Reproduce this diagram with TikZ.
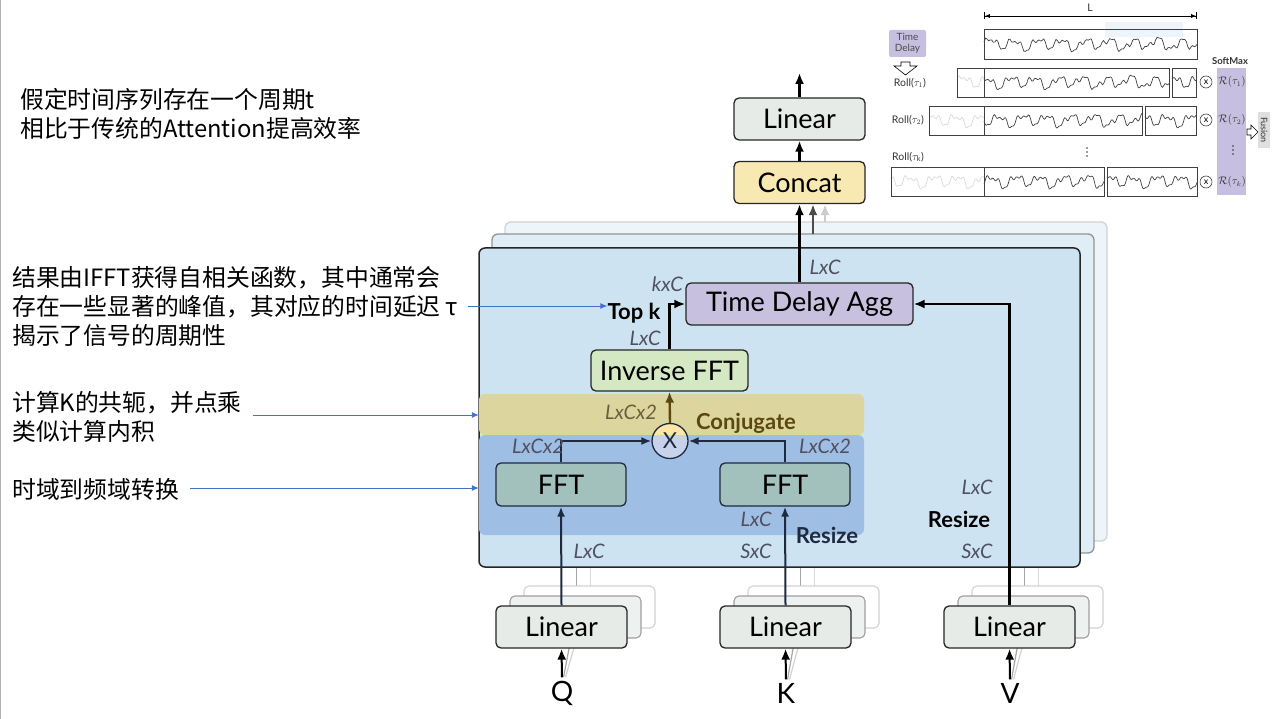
\documentclass[tikz,border=0pt]{standalone}
\usepackage{fontspec}
\setmainfont{Lato}
\newfontfamily\cjk{Noto Sans CJK SC}
\usetikzlibrary{arrows.meta,shapes.geometric,calc}
\definecolor{panelA}{HTML}{CDE3F1}
\definecolor{panelB}{HTML}{DFEDF6}
\definecolor{panelC}{HTML}{EEF5FA}
\definecolor{linfill}{HTML}{E6EBE8}
\definecolor{catfill}{HTML}{F8E8B2}
\definecolor{tdafill}{HTML}{C7C0DE}
\definecolor{ifftfill}{HTML}{D3E8C3}
\definecolor{conjfill}{HTML}{DDD59E}
\definecolor{fftband}{HTML}{9FBEE3}
\definecolor{fftfill}{HTML}{A2C0BC}
\definecolor{navy}{HTML}{1D2A40}
\definecolor{lblgray}{HTML}{4F5060}
\definecolor{brown}{HTML}{5B4710}
\definecolor{annblue}{HTML}{4472C4}
\definecolor{softm}{HTML}{C6BFE0}
\definecolor{mulbot}{HTML}{C8D2EA}
\definecolor{multop}{HTML}{FBE6A4}
% #1 x0, #2 x1, #3 ymid, #4 shift (small), #5 colour
\newcommand\wv[5]{\draw[#5, line width=0.7pt, line join=round] plot[domain=0:{#2-#1}, samples=140] ({#1+\x}, {#3 - (4.5*sin(15*(\x+#4)) + 2.5*sin(31*(\x+#4)+40) + 1.6*sin(61*(\x+#4)+10) + 1.2*sin(7*(\x+#4)))});}
\begin{document}
\begin{tikzpicture}[x=1pt,y=-1pt,
  bx/.style={draw=black!85, line width=1.3pt, rounded corners=5pt, inner sep=0pt, minimum height=42pt, font=\fontsize{27}{30}\selectfont},
  arr/.style={-{Latex[length=11pt,width=9pt]}, line width=2.4pt},
  narr/.style={-{Latex[length=10pt,width=8pt]}, line width=2pt, navy},
  lbl/.style={font=\fontsize{20}{22}\selectfont\itshape, text=lblgray, inner sep=0pt},
  ann/.style={font=\fontsize{23.8}{29}\selectfont\cjk, align=left, anchor=west, inner sep=0pt},
  aarr/.style={-{Latex[length=7pt,width=6pt]}, line width=1pt, annblue},
  ghostA/.style={draw=gray!75, fill=linfill!70, line width=1.1pt, rounded corners=5pt},
  ghostB/.style={draw=gray!35, fill=white, line width=1.1pt, rounded corners=5pt},
  tiny/.style={font=\fontsize{10.5}{11}\selectfont, inner sep=0pt, text=black!80},
  wbox/.style={draw=black!75, line width=0.7pt},
  strong/.style={font=\fontsize{22}{24}\selectfont\bfseries, inner sep=0pt}
]
\useasboundingbox (0,0) rectangle (1279,719);
\draw[gray!60, line width=1pt] (0.5,0) -- (0.5,719);

% ---------- left annotations ----------
\node[ann] (ann1) at (20,114) {假定时间序列存在一个周期t\\相比于传统的Attention提高效率};
\node[ann] (ann2) at (12,307) {结果由IFFT获得自相关函数，其中通常会\\存在一些显著的峰值，其对应的时间延迟 τ\\揭示了信号的周期性};
\node[ann] (ann3) at (12,417) {计算K的共轭，并点乘\\类似计算内积};
\node[ann] (ann4) at (12,489) {时域到频域转换};

% ---------- ghost lines behind panels ----------
\foreach \cx in {561.5,785.5,1009.5}{
  \draw[gray!70, line width=1.5pt] (\cx+15,596) -- (\cx+15,545);
  \draw[gray!30, line width=1.5pt] (\cx+29,586) -- (\cx+29,545);
}
% ---------- panels ----------
\draw[fill=panelC, draw=gray!35, line width=1.3pt, rounded corners=6pt] (505,222) rectangle (1107,541);
\draw[fill=panelB, draw=gray!85, line width=1.3pt, rounded corners=6pt] (492,234) rectangle (1094,553);
\draw[fill=panelA, draw=black!85, line width=1.5pt, rounded corners=6pt] (479,248) rectangle (1080,567);

% bands
\node[fill=conjfill, rounded corners=6pt, minimum width=385pt, minimum height=41pt, inner sep=0pt] (conj) at (671.5,414.5) {};
\node[fill=fftband, rounded corners=6pt, minimum width=385pt, minimum height=100pt, inner sep=0pt] (fftb) at (671.5,485) {};

% ---------- top nodes ----------
\node[bx, fill=linfill, minimum width=131pt] (linT) at (799.5,119) {Linear};
\node[bx, fill=catfill, minimum width=131pt] (concat) at (799.5,182.5) {Concat};
\coordinate (out) at (799.5,73);
\node[bx, fill=tdafill, minimum width=227pt] (tda) at (799.5,304) {Time Delay Agg};
\node[bx, fill=ifftfill, minimum width=157pt, minimum height=41pt] (ifft) at (669.5,370.5) {Inverse FFT};
\node[bx, draw=navy, fill=fftfill, minimum width=130pt, minimum height=43pt] (fftL) at (561,484.5) {FFT};
\node[bx, draw=navy, fill=fftfill, minimum width=130pt, minimum height=43pt] (fftR) at (785,484.5) {FFT};
\node[ellipse, draw=navy, line width=1.3pt, minimum width=36pt, minimum height=35pt, inner sep=0pt, fill=multop,
  path picture={\fill[mulbot] (path picture bounding box.south west) rectangle ([yshift=6pt]path picture bounding box.east);},
  font=\fontsize{22}{24}\selectfont, text=navy] (mul) at (670,441) {X};

% bottom linears with ghosts
\foreach \nm/\cx in {linQ/561.5,linK/785.5,linV/1009.5}{
  \draw[ghostB] (\cx-65.5+28,606-20) rectangle (\cx+65.5+28,648-20);
  \draw[ghostA] (\cx-65.5+14,606-10) rectangle (\cx+65.5+14,648-10);
}
\node[font=\fontsize{28}{30}\selectfont] (q) at (562,693) {Q};
\node[font=\fontsize{28}{30}\selectfont] (k) at (786,693) {K};
\node[font=\fontsize{28}{30}\selectfont] (v) at (1010,693) {V};
\foreach \s/\cx in {q/561.5,k/785.5,v/1009.5}{
  \draw[gray!70, line width=1.2pt] ($(\s.north)+(1.5,0)$) -- (\cx+8,646);
  \draw[gray!35, line width=1.2pt] ($(\s.north)+(3.5,0)$) -- (\cx+13,646);
}
\foreach \nm/\cx in {linQ/561.5,linK/785.5,linV/1009.5}{
  \node[bx, fill=linfill, minimum width=131pt] (\nm) at (\cx,627) {Linear};
}
\foreach \s/\t in {q/linQ,k/linK,v/linV}{
  \draw[arr, line width=2pt] (\s.north) -- (\t.south);
}

% ---------- connectors ----------
\draw[arr] (linT.north) -- (out);
\draw[arr] (concat.north) -- (linT.south);
\draw[arr] (tda.north) -- (concat.south);
\coordinate (g2) at (813,234);
\coordinate (g3) at (825,222);
\draw[arr, draw=gray!60!black, fill=gray!60!black] (g2) -- (g2 |- concat.south);
\draw[arr, draw=gray!40, fill=gray!40] (g3) -- (g3 |- concat.south);
\draw[arr] (ifft.north) |- (tda.west);
\draw[arr] (linV.north) |- (tda.east);
\draw[arr, draw=brown, fill=brown] (mul.north) -- (ifft.south);
\draw[narr] (fftL.north) |- (mul.west);
\draw[narr] (fftR.north) |- (mul.east);
\draw[narr] (linQ.north) -- (fftL.south);
\draw[narr] (linK.north) -- (fftR.south);

% ---------- labels ----------
\node[lbl] at (825,267) {LxC};
\node[lbl, anchor=east] at (683,284) {kxC};
\node[strong] (topk) at (634,313) {Top k};
\node[lbl] at (645,338) {LxC};
\node[lbl, text=brown!60!gray] at (631,412) {LxCx2};
\node[strong, text=brown] at (746,423) {Conjugate};
\node[lbl] at (538,446) {LxCx2};
\node[lbl] at (825,446) {LxCx2};
\node[lbl] at (756,519) {LxC};
\node[strong, text=navy] at (827,535) {Resize};
\node[lbl] at (589,551) {LxC};
\node[lbl] at (756,551) {SxC};
\node[lbl] at (977,551) {SxC};
\node[lbl] at (977,487) {LxC};
\node[strong] at (959,519) {Resize};

% ---------- annotation arrows ----------
\coordinate (a2s) at (468,306);
\coordinate (a3s) at (253,415);
\coordinate (a4s) at (190,488);
\draw[aarr] (a2s) -- (a2s -| topk.west);
\draw[aarr] (a3s) -- (a3s -| conj.west);
\draw[aarr] (a4s) -- (a4s -| fftb.west);

% ---------- top-right inset ----------
\draw[{Bar[width=7pt]Latex[length=5pt,width=4pt]}-{Latex[length=5pt,width=4pt]Bar[width=7pt]}, line width=0.8pt] (984,16) -- (1197,16);
\node[tiny] at (1090,8) {L};
\node[fill=softm, rounded corners=2pt, minimum width=37pt, minimum height=27pt, align=center, font=\fontsize{10}{11}\selectfont, text=black!70, inner sep=0pt] (td) at (907.5,43.5) {Time\\Delay};
\draw[line width=0.6pt, fill=white] (901,62) -- (910,62) -- (910,66) -- (917,66) -- (905.5,75) -- (894,66) -- (901,66) -- cycle;
\fill[panelC] (1105,22) rectangle (1183,37);
% row 0
\wv{984}{1197}{44}{0}{black!75}
\draw[wbox] (984,29) rectangle (1197,59);
% row 1
\wv{957}{984}{82}{0}{gray!30}
\wv{984}{1169}{82}{27}{black!75}
\wv{1172}{1196}{82}{5}{black!75}
\draw[wbox] (957,68) rectangle (1169,97);
\draw[wbox] (984,68) -- (984,97);
\draw[wbox] (1172,68) rectangle (1196,97);
\node[tiny] at (910,83) {Roll($\tau_1$)};
% row 2
\wv{929}{984}{120}{3}{gray!30}
\wv{984}{1142}{120}{15}{black!75}
\wv{1145}{1196}{120}{8}{black!75}
\draw[wbox] (929,106) rectangle (1142,135);
\draw[wbox] (984,106) -- (984,135);
\draw[wbox] (1145,106) rectangle (1196,135);
\node[tiny] at (908,120) {Roll($\tau_2$)};
\foreach \dy in {-4,0,4}{ \fill[black!80] (1087,152+\dy) circle (0.9pt); }
% row 3
\wv{891}{984}{181}{11}{gray!30}
\wv{984}{1104}{181}{22}{black!75}
\wv{1107}{1197}{181}{4}{black!75}
\draw[wbox] (891,167) rectangle (1104,196);
\draw[wbox] (984,167) -- (984,196);
\draw[wbox] (1107,167) rectangle (1197,196);
\node[tiny] at (908,157) {Roll($\tau_\mathrm{k}$)};
% multiply circles
\foreach \yy in {82,120,182}{
  \node[circle, draw=black!75, line width=0.6pt, minimum size=12pt, inner sep=0pt, font=\fontsize{9}{9}\selectfont] at (1206,\yy) {x};
}
% softmax column
\node[tiny, font=\fontsize{9.5}{10}\selectfont\bfseries] at (1230,61) {SoftMax};
\node[fill=softm, minimum width=29pt, minimum height=127pt, inner sep=0pt] (sm) at (1231.5,131.5) {};
\node[tiny] at (1232,82) {$\mathcal{R}(\tau_1)$};
\node[tiny] at (1232,120) {$\mathcal{R}(\tau_2)$};
\foreach \dy in {-4,0,4}{ \fill[black!80] (1233,150+\dy) circle (0.9pt); }
\node[tiny] at (1232,182) {$\mathcal{R}(\tau_k)$};
\draw[line width=0.6pt, fill=white] (1247,129) -- (1251,129) -- (1251,125) -- (1258,132) -- (1251,139) -- (1251,135) -- (1247,135) -- cycle;
\node[fill=gray!25, minimum width=12pt, minimum height=36pt, inner sep=0pt] (fus) at (1264,130) {};
\node[tiny, font=\fontsize{9}{10}\selectfont, rotate=-90] at (fus) {Fusion};
\end{tikzpicture}
\end{document}
